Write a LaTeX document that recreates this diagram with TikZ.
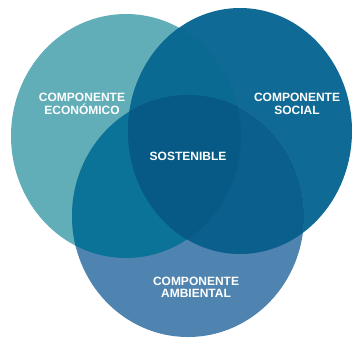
\documentclass[tikz,border=0pt]{standalone}
\usepackage{fontspec}
\setmainfont{Liberation Sans}
\definecolor{cL}{HTML}{62AEB8}
\definecolor{cR}{HTML}{106A96}
\definecolor{cB}{HTML}{4F84B0}
\definecolor{cLR}{HTML}{0B6A92}
\definecolor{cLB}{HTML}{0B7398}
\definecolor{cRB}{HTML}{0B5F8C}
\definecolor{cLRB}{HTML}{075A85}
\begin{document}
\begin{tikzpicture}[x=1pt,y=-1pt,
  lbl/.style={text=white,font=\bfseries\fontsize{12}{12.5}\selectfont,align=center,inner sep=0pt}]
\useasboundingbox (0,0) rectangle (352,338);
% single circles
\fill[cL] (126,136) ellipse [x radius=115, y radius=122];
\fill[cR] (240,131) ellipse [x radius=112, y radius=123];
\fill[cB] (188,216) ellipse [x radius=116, y radius=121];
% pairwise overlaps
\begin{scope}
  \clip (126,136) ellipse [x radius=115, y radius=122];
  \fill[cLR] (240,131) ellipse [x radius=112, y radius=123];
  \fill[cLB] (188,216) ellipse [x radius=116, y radius=121];
\end{scope}
\begin{scope}
  \clip (240,131) ellipse [x radius=112, y radius=123];
  \fill[cRB] (188,216) ellipse [x radius=116, y radius=121];
\end{scope}
% triple overlap
\begin{scope}
  \clip (126,136) ellipse [x radius=115, y radius=122];
  \clip (240,131) ellipse [x radius=112, y radius=123];
  \fill[cLRB] (188,216) ellipse [x radius=116, y radius=121];
\end{scope}
% labels
\node[lbl] (eco) at (82,104) {COMPONENTE\\ECONÓMICO};
\node[lbl] (soc) at (297,104) {COMPONENTE\\SOCIAL};
\node[lbl] (sos) at (188,156) {SOSTENIBLE};
\node[lbl] (amb) at (196,287.5) {COMPONENTE\\AMBIENTAL};
\end{tikzpicture}
\end{document}
